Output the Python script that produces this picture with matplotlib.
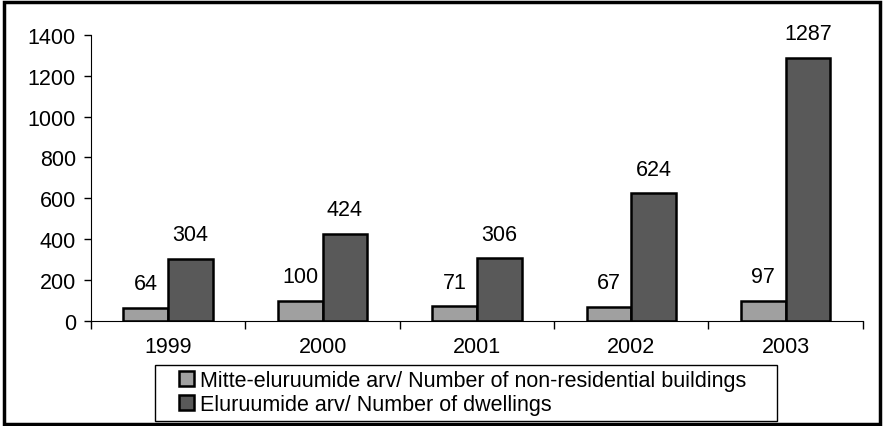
import numpy as np
import matplotlib
matplotlib.use("Agg")
import matplotlib.pyplot as plt
from matplotlib.patches import Rectangle

years = ["1999", "2000", "2001", "2002", "2003"]
non_residential = [64, 100, 71, 67, 97]
dwellings = [304, 424, 306, 624, 1287]
labels = ["Mitte-eluruumide arv/ Number of non-residential buildings",
          "Eluruumide arv/ Number of dwellings"]

plt.rcParams['font.family'] = ['Liberation Sans', 'DejaVu Sans']
fs = 15.5

fig = plt.figure(figsize=(8.84, 4.27), dpi=100)
ax = fig.add_axes([0.103, 0.246, 0.873, 0.67])

x = np.arange(len(years))
w = 0.29
b1 = ax.bar(x - w / 2, non_residential, w, color="#a0a0a0", edgecolor="black", linewidth=1.8, label=labels[0])
b2 = ax.bar(x + w / 2, dwellings, w, color="#595959", edgecolor="black", linewidth=1.8, label=labels[1])

for bars in (b1, b2):
    for r in bars:
        ax.annotate(f"{int(r.get_height())}", (r.get_x() + r.get_width() / 2, r.get_height()),
                    xytext=(0, 10), textcoords="offset points", ha="center", va="bottom", fontsize=fs)

ax.set_xlim(-0.5, len(years) - 0.5)
ax.set_ylim(0, 1400)
ax.set_yticks(range(0, 1401, 200))
ax.set_xticks(x)
ax.set_xticklabels(years)
ax.set_xticks(np.arange(-0.5, len(years)), minor=True)
ax.tick_params(axis="x", which="major", length=0, pad=11, labelsize=fs)
ax.tick_params(axis="x", which="minor", length=6, width=1, direction="out")
ax.tick_params(axis="y", length=5, width=1, labelsize=fs, pad=6)
ax.spines["top"].set_visible(False)
ax.spines["right"].set_visible(False)

# legend box drawn separately (Excel-style padding)
fig.patches.append(Rectangle((0.175, 0.012), 0.704, 0.131, transform=fig.transFigure,
                             fill=False, edgecolor="black", linewidth=1.0))
leg = fig.legend(handles=[b1, b2], loc="center left", bbox_to_anchor=(0.202, 0.078), ncol=1,
                 fontsize=fs, frameon=False,
                 handlelength=0.7, handleheight=0.7, handletextpad=0.3,
                 borderpad=0.0, labelspacing=0.15, borderaxespad=0.0)

fig.patches.append(Rectangle((0.004, 0.004), 0.992, 0.99, transform=fig.transFigure,
                             fill=False, edgecolor="black", linewidth=2.5))

fig.savefig("out.png", dpi=100)
